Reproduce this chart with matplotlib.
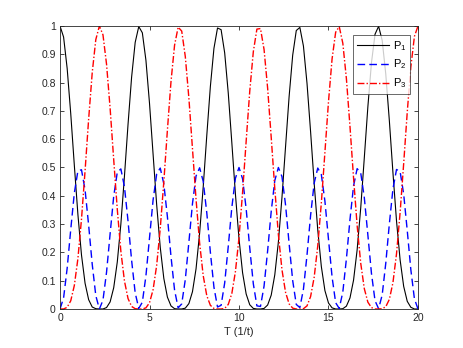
import numpy as np
import matplotlib
matplotlib.use("Agg")
import matplotlib.pyplot as plt

# time samples (0 .. 20, step 0.2)
T = np.linspace(0, 20, 101)

P1 = [1.000, 0.961, 0.850, 0.690, 0.508, 0.334, 0.191, 0.091, 0.033, 0.007,
      0.001, 0.000, 0.000, 0.005, 0.025, 0.075, 0.166, 0.300, 0.469, 0.652,
      0.819, 0.942, 0.998, 0.976, 0.879, 0.727, 0.547, 0.369, 0.218, 0.108,
      0.042, 0.011, 0.001, 0.000, 0.000, 0.003, 0.019, 0.061, 0.142, 0.268,
      0.431, 0.613, 0.786, 0.921, 0.993, 0.987, 0.905, 0.763, 0.587, 0.406,
      0.248, 0.128, 0.053, 0.015, 0.002, 0.000, 0.000, 0.002, 0.014, 0.049,
      0.121, 0.237, 0.394, 0.573, 0.751, 0.897, 0.984, 0.995, 0.929, 0.797,
      0.626, 0.444, 0.279, 0.150, 0.065, 0.021, 0.004, 0.000, 0.000, 0.001,
      0.010, 0.039, 0.102, 0.209, 0.357, 0.534, 0.715, 0.870, 0.971, 0.999,
      0.949, 0.830, 0.665, 0.482, 0.311, 0.174, 0.080, 0.027, 0.006, 0.000,
      0.000]

P2 = [0.000, 0.039, 0.144, 0.281, 0.410, 0.488, 0.492, 0.421, 0.296, 0.158,
      0.047, 0.000, 0.031, 0.130, 0.266, 0.398, 0.483, 0.495, 0.432, 0.311,
      0.172, 0.057, 0.002, 0.024, 0.117, 0.251, 0.385, 0.477, 0.498, 0.442,
      0.326, 0.186, 0.067, 0.004, 0.018, 0.104, 0.236, 0.372, 0.470, 0.499,
      0.451, 0.340, 0.201, 0.077, 0.007, 0.013, 0.092, 0.221, 0.359, 0.462,
      0.500, 0.460, 0.354, 0.216, 0.089, 0.011, 0.009, 0.081, 0.206, 0.345,
      0.454, 0.500, 0.468, 0.368, 0.231, 0.100, 0.016, 0.005, 0.070, 0.191,
      0.331, 0.445, 0.498, 0.475, 0.381, 0.246, 0.113, 0.022, 0.002, 0.060,
      0.177, 0.316, 0.435, 0.496, 0.481, 0.394, 0.261, 0.126, 0.029, 0.001,
      0.050, 0.162, 0.301, 0.424, 0.493, 0.486, 0.406, 0.277, 0.139, 0.036,
      0.000]

P3 = [0.000, 0.000, 0.006, 0.029, 0.083, 0.178, 0.317, 0.488, 0.671, 0.835,
      0.952, 1.000, 0.969, 0.865, 0.709, 0.528, 0.352, 0.204, 0.099, 0.037,
      0.009, 0.001, 0.000, 0.000, 0.004, 0.022, 0.068, 0.154, 0.284, 0.450,
      0.632, 0.803, 0.932, 0.996, 0.982, 0.892, 0.745, 0.567, 0.388, 0.233,
      0.118, 0.047, 0.013, 0.002, 0.000, 0.000, 0.002, 0.016, 0.055, 0.132,
      0.252, 0.412, 0.593, 0.769, 0.909, 0.989, 0.991, 0.917, 0.780, 0.606,
      0.425, 0.263, 0.139, 0.059, 0.018, 0.003, 0.000, 0.000, 0.001, 0.011,
      0.044, 0.112, 0.223, 0.375, 0.554, 0.733, 0.884, 0.978, 0.998, 0.939,
      0.814, 0.645, 0.463, 0.295, 0.162, 0.072, 0.024, 0.005, 0.000, 0.000,
      0.001, 0.008, 0.034, 0.093, 0.195, 0.340, 0.514, 0.696, 0.855, 0.963,
      1.000]

labels = [r"P$_1$", r"P$_2$", r"P$_3$"]
xticks = [0, 5, 10, 15, 20]
yticks = [0, 0.1, 0.2, 0.3, 0.4, 0.5, 0.6, 0.7, 0.8, 0.9, 1]
ytick_labels = ["0", "0.1", "0.2", "0.3", "0.4", "0.5", "0.6", "0.7", "0.8", "0.9", "1"]
xlabel = "T (1/t)"

plt.rcParams['font.family'] = ['Liberation Sans', 'DejaVu Sans']
plt.rcParams['mathtext.fontset'] = 'custom'
plt.rcParams['mathtext.rm'] = 'Liberation Sans'
plt.rcParams['mathtext.it'] = 'Liberation Sans'

fig = plt.figure(figsize=(4.63, 3.48), dpi=100)
ax = fig.add_axes([0.1296, 0.1121, 0.7732, 0.8132])

ax.plot(T, P1, color='black', linestyle='-', linewidth=0.8, label=labels[0])
ax.plot(T, P2, color='#0000ff', linestyle=(0, (5.5, 3)), linewidth=1.0, label=labels[1])
ax.plot(T, P3, color='#ff0000', linestyle=(0, (5, 1.5, 1, 1.5)), linewidth=1.0, label=labels[2])

ax.set_xlim(0, 20)
ax.set_ylim(0, 1)
ax.set_xticks(xticks)
ax.set_xticklabels([str(v) for v in xticks])
ax.set_yticks(yticks)
ax.set_yticklabels(ytick_labels)

gray = '#262626'
for s in ax.spines.values():
    s.set_color(gray)
    s.set_linewidth(0.6)
ax.tick_params(direction='in', length=3, width=0.6, color=gray,
               labelsize=7.5, labelcolor=gray, top=True, right=True, pad=3)
ax.set_xlabel(xlabel, fontsize=8, color=gray, labelpad=3)

leg = ax.legend(loc='upper right', bbox_to_anchor=(1 - 8/358, 1 - 9/283),
                borderaxespad=0, fontsize=8, frameon=True, fancybox=False,
                handlelength=2.9, handletextpad=0.3, labelspacing=0.45,
                borderpad=0.35)
leg.get_frame().set_edgecolor(gray)
leg.get_frame().set_linewidth(0.6)

fig.savefig("out.png", dpi=100)
